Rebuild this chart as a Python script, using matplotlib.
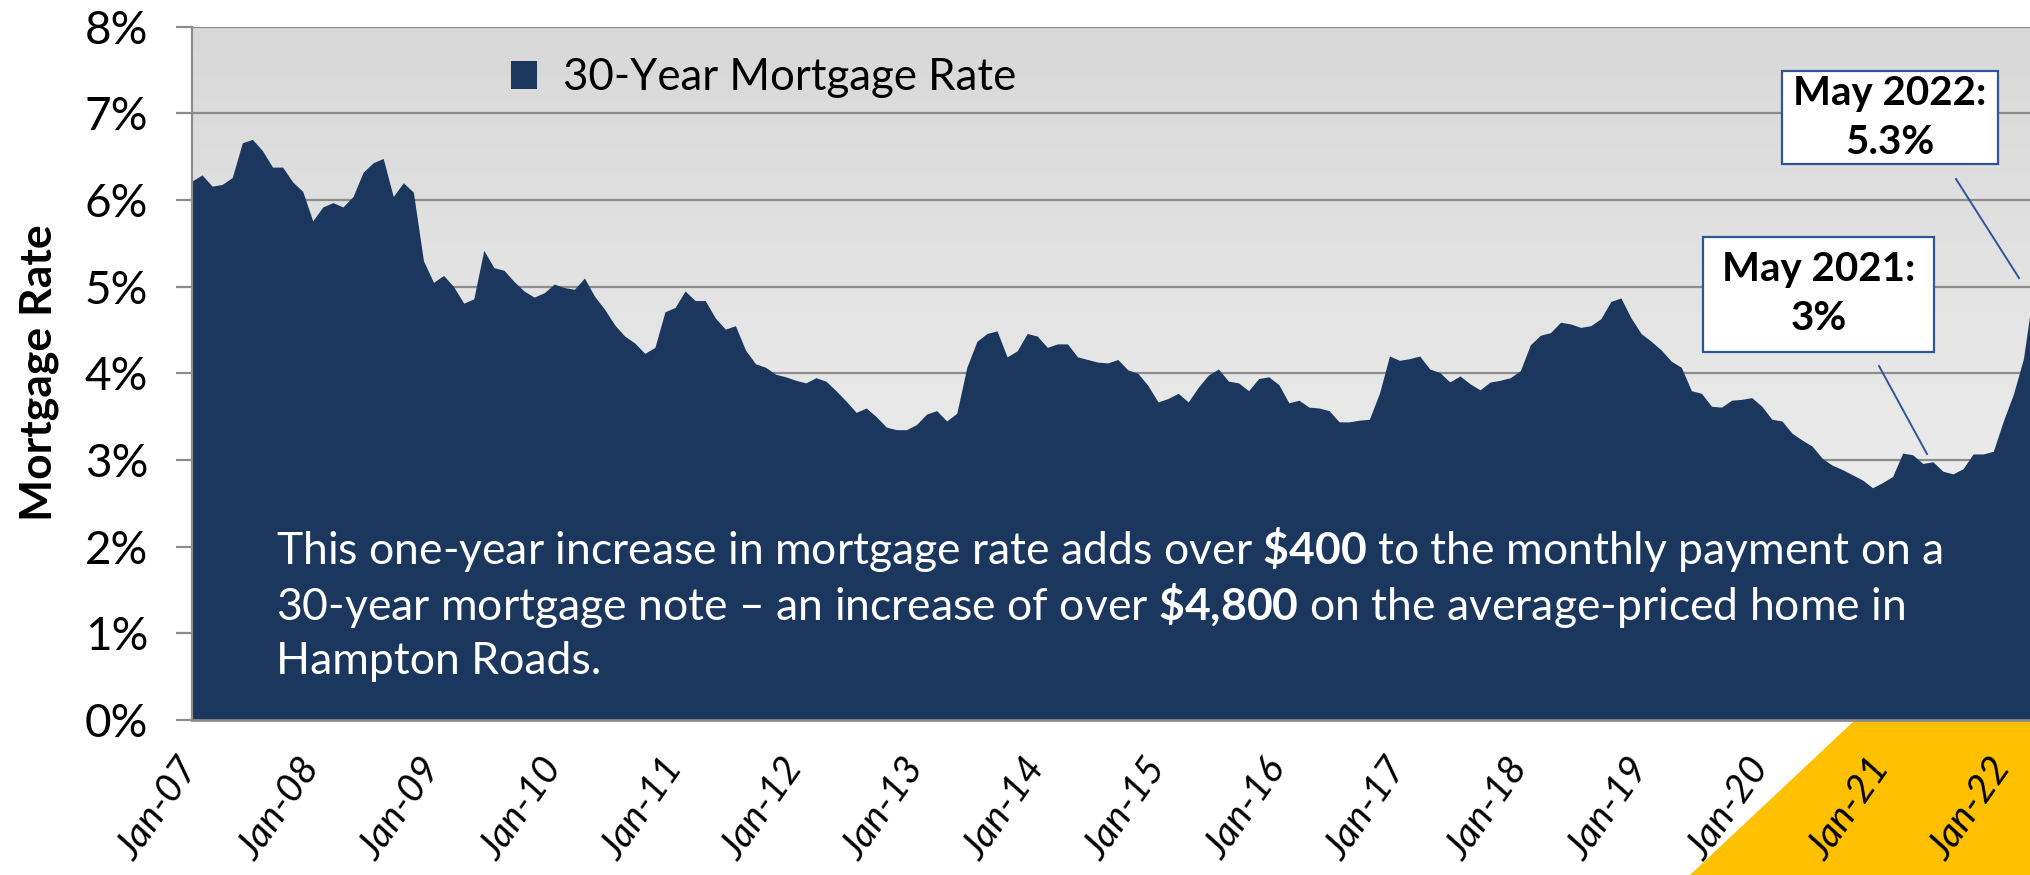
import matplotlib
matplotlib.use("Agg")
import matplotlib.pyplot as plt
import numpy as np
from matplotlib.colors import LinearSegmentedColormap
from matplotlib.patches import Patch, Polygon, Rectangle
from matplotlib.lines import Line2D

plt.rcParams["font.family"] = ["Lato", "DejaVu Sans"]
plt.rcParams["mathtext.fontset"] = "custom"
plt.rcParams["mathtext.rm"] = "Lato"
plt.rcParams["mathtext.bf"] = "Lato:bold"

# Monthly 30-year mortgage rate (%), Jan 2007 - May 2022
rates_2007 = [6.22, 6.29, 6.16, 6.18, 6.26, 6.66, 6.70, 6.57, 6.38, 6.38, 6.21, 6.10]
rates_2008 = [5.76, 5.92, 5.97, 5.92, 6.04, 6.32, 6.43, 6.48, 6.04, 6.20, 6.09, 5.30]
rates_2009 = [5.05, 5.13, 5.00, 4.81, 4.86, 5.42, 5.22, 5.19, 5.06, 4.95, 4.88, 4.93]
rates_2010 = [5.03, 4.99, 4.97, 5.10, 4.89, 4.74, 4.56, 4.43, 4.35, 4.23, 4.30, 4.71]
rates_2011 = [4.76, 4.95, 4.84, 4.84, 4.64, 4.51, 4.55, 4.27, 4.11, 4.07, 3.99, 3.96]
rates_2012 = [3.92, 3.89, 3.95, 3.91, 3.80, 3.68, 3.55, 3.60, 3.50, 3.38, 3.35, 3.35]
rates_2013 = [3.41, 3.53, 3.57, 3.45, 3.54, 4.07, 4.37, 4.46, 4.49, 4.19, 4.26, 4.46]
rates_2014 = [4.43, 4.30, 4.34, 4.34, 4.19, 4.16, 4.13, 4.12, 4.16, 4.04, 4.00, 3.86]
rates_2015 = [3.67, 3.71, 3.77, 3.67, 3.84, 3.98, 4.05, 3.91, 3.89, 3.80, 3.94, 3.96]
rates_2016 = [3.87, 3.66, 3.69, 3.61, 3.60, 3.57, 3.44, 3.44, 3.46, 3.47, 3.77, 4.20]
rates_2017 = [4.15, 4.17, 4.20, 4.05, 4.01, 3.90, 3.97, 3.88, 3.81, 3.90, 3.92, 3.95]
rates_2018 = [4.03, 4.33, 4.44, 4.47, 4.59, 4.57, 4.53, 4.55, 4.63, 4.83, 4.87, 4.64]
rates_2019 = [4.46, 4.37, 4.27, 4.14, 4.07, 3.80, 3.77, 3.62, 3.61, 3.69, 3.70, 3.72]
rates_2020 = [3.62, 3.47, 3.45, 3.31, 3.23, 3.16, 3.02, 2.94, 2.89, 2.83, 2.77, 2.68]
rates_2021 = [2.74, 2.81, 3.08, 3.06, 2.96, 2.98, 2.87, 2.84, 2.90, 3.07, 3.07, 3.10]
rates_2022 = [3.45, 3.76, 4.17, 4.98, 5.23]

rates = (rates_2007 + rates_2008 + rates_2009 + rates_2010 + rates_2011
         + rates_2012 + rates_2013 + rates_2014 + rates_2015 + rates_2016
         + rates_2017 + rates_2018 + rates_2019 + rates_2020 + rates_2021
         + rates_2022)
months = np.arange(len(rates))

tick_labels = ["Jan-07", "Jan-08", "Jan-09", "Jan-10", "Jan-11", "Jan-12",
               "Jan-13", "Jan-14", "Jan-15", "Jan-16", "Jan-17", "Jan-18",
               "Jan-19", "Jan-20", "Jan-21", "Jan-22"]
y_ticks = [0, 1, 2, 3, 4, 5, 6, 7, 8]

navy = "#1b375e"
grid_gray = "#8c8c8c"
box_blue = "#2f5597"

W, H = 2031, 875
fig = plt.figure(figsize=(W / 100, H / 100), dpi=100)


def fx(px):
    return px / W


def fy(py):
    return 1 - py / H


# yellow highlight behind the last tick labels
fig.add_artist(Polygon([(fx(1855), fy(720)), (1, fy(720)), (1, 0), (fx(1690), 0)],
                       closed=True, transform=fig.transFigure,
                       facecolor="#ffc000", edgecolor="none", zorder=-1))

ax = fig.add_axes([fx(192), fy(720), 1 - fx(192), fy(26.7) - fy(720)])
x_max = 182.75
ax.set_xlim(0, x_max)
ax.set_ylim(0, 8)

# gradient plot background
bg = LinearSegmentedColormap.from_list("bg", ["#d8d8d8", "#f5f5f5"])
ax.imshow(np.linspace(0, 1, 256).reshape(-1, 1), cmap=bg, aspect="auto",
          extent=[0, x_max, 0, 8], origin="upper", zorder=0)

ax.fill_between(months, rates, 0, color=navy, lw=0, zorder=2,
                label="30-Year Mortgage Rate")

ax.set_yticks(y_ticks)
ax.set_yticklabels([f"{v}%" for v in y_ticks])
ax.yaxis.grid(True, color=grid_gray, lw=1.6, zorder=1)
ax.set_axisbelow(True)
ax.tick_params(axis="y", length=11.5, width=1.6, color=grid_gray, pad=20,
               labelsize=33)

ax.set_xticks(np.arange(0, 181, 12))
ax.set_xticklabels(tick_labels, rotation=55, ha="right", va="center",
                   rotation_mode="anchor", fontsize=28, fontstyle="italic")
ax.tick_params(axis="x", length=0, pad=30)

for side in ["top", "right"]:
    ax.spines[side].set_visible(False)
ax.spines["left"].set_color(grid_gray)
ax.spines["left"].set_linewidth(1.6)
ax.spines["bottom"].set_color(grid_gray)
ax.spines["bottom"].set_linewidth(2)

fig.text(fx(39), fy(373), "Mortgage Rate", rotation=90, fontsize=32,
         fontweight="bold", ha="center", va="center")

ax.legend(handles=[Patch(facecolor=navy, label="30-Year Mortgage Rate")],
          loc="center left", bbox_to_anchor=((511 - 192) / (W - 192), (720 - 78) / 693.3),
          frameon=False, fontsize=31.5, handlelength=0.6, handleheight=0.6,
          handletextpad=0.6, borderpad=0, borderaxespad=0)

# note inside the area
note_lines = [
    r"This one-year increase in mortgage rate adds over $\mathbf{\$400}$ to the monthly payment on a",
    r"30-year mortgage note – an increase of over $\mathbf{\$4{,}800}$ on the average-priced home in",
    "Hampton Roads.",
]
for line, py in zip(note_lines, [550, 605, 661]):
    fig.text(fx(276), fy(py), line, color="white", fontsize=32,
             ha="left", va="center")

# callout boxes
callouts = [("May 2021:\n3%", (1703, 237, 1934, 352), (1879, 366), (1927, 454)),
            ("May 2022:\n5.3%", (1782, 71, 1998, 164), (1956, 179), (2019, 278))]
for text, (x0, y0, x1, y1), p0, p1 in callouts:
    fig.add_artist(Rectangle((fx(x0), fy(y1)), fx(x1 - x0), (y1 - y0) / H,
                             transform=fig.transFigure, facecolor="white",
                             edgecolor=box_blue, lw=1.6, zorder=5))
    fig.text(fx((x0 + x1) / 2), fy((y0 + y1) / 2), text, fontsize=29,
             fontweight="bold", ha="center", va="center", linespacing=1.4,
             zorder=6)
    fig.add_artist(Line2D([fx(p0[0]), fx(p1[0])], [fy(p0[1]), fy(p1[1])],
                          transform=fig.transFigure, color=box_blue, lw=1.4,
                          zorder=5))

fig.savefig("out.png", dpi=100)
